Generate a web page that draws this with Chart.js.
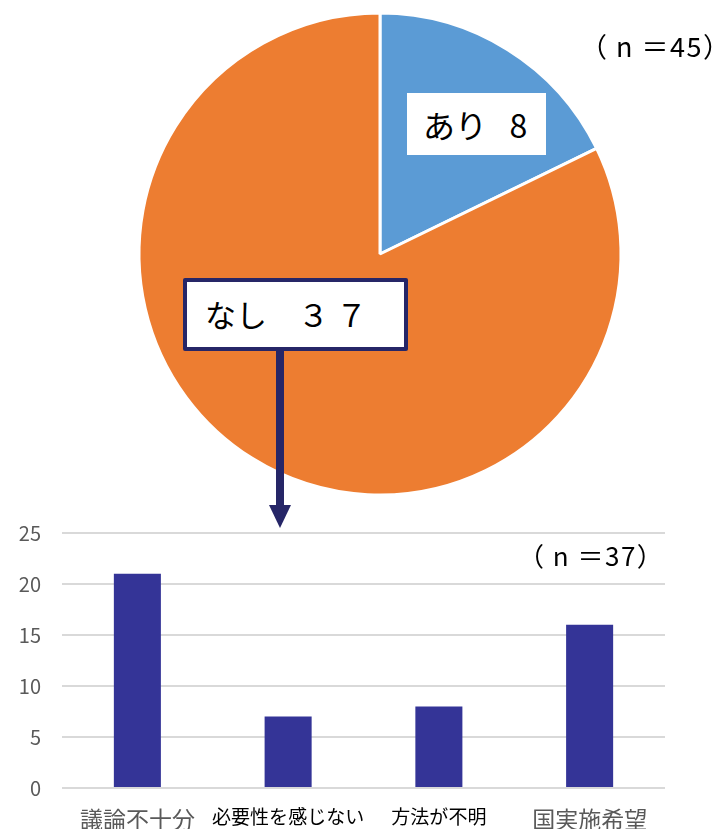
<!DOCTYPE html>
<html>
<head>
<meta charset="utf-8">
<script src="https://cdn.jsdelivr.net/npm/chart.js@4/dist/chart.umd.min.js"></script>
<style>
  html, body { margin:0; padding:0; background:#fff; }
  body { width:727px; height:829px; position:relative; overflow:hidden; font-family:"Noto Sans CJK JP", sans-serif; }
  #pieWrap { position:absolute; left:130px; top:3.5px; width:500px; height:500px; }
  #barWrap { position:absolute; left:0; top:500px; width:727px; height:329px; }
  .ann { position:absolute; white-space:nowrap; color:#000; }
  #boxAri { left:407px; top:93px; width:139px; height:62px; background:#fff; font-size:32px; line-height:62px; padding-left:16px; box-sizing:border-box; }
  #boxNashi { left:183px; top:278px; width:225px; height:73px; background:#fff; border:4px solid #262667; border-radius:2px; font-size:31px; line-height:64px; padding-left:18px; box-sizing:border-box; }
  #arrowLine { position:absolute; left:276px; top:351px; width:8px; height:160px; background:#262667; }
  #arrowHead { position:absolute; left:268.5px; top:505px; width:0; height:0; border-left:11.5px solid transparent; border-right:11.5px solid transparent; border-top:23px solid #262667; }
  #n45 { left:580px; top:26px; font-size:27px; letter-spacing:1.5px; line-height:40px; color:#000; }
  #n37 { left:518px; top:537px; font-size:26px; letter-spacing:1.5px; line-height:36px; color:#000; }
</style>
</head>
<body>
<div id="pieWrap"><canvas id="pie"></canvas></div>
<div id="barWrap"><canvas id="bar"></canvas></div>
<div class="ann" id="boxAri"></div>
<div class="ann" id="boxNashi"></div>
<div id="arrowLine"></div>
<div id="arrowHead"></div>
<div class="ann" id="n45"></div>
<div class="ann" id="n37"></div>
<script>
// ---- data ----
const pieLabels = ['あり', 'なし'];
const pieValues = [8, 37];
const pieTotal = 45;

const barLabels = ['議論不十分', '必要性を感じない', '方法が不明', '国実施希望'];
const barValues = [21, 7, 8, 16];
const barTotal = 37;
const yTicks = [0, 5, 10, 15, 20, 25];

// ---- helpers ----
const toFW = s => String(s).replace(/[0-9]/g, d => String.fromCharCode(d.charCodeAt(0) + 0xFEE0));
document.getElementById('boxAri').textContent = pieLabels[0] + '\u2002\u2009' + pieValues[0];
document.getElementById('boxNashi').textContent = pieLabels[1] + '　' + toFW(pieValues[1]).split('').join(' ');
document.getElementById('n45').textContent = '（ n ＝' + pieTotal + '）';
document.getElementById('n37').textContent = '（ n ＝' + barTotal + '）';

const FONT = '"Noto Sans CJK JP", sans-serif';

new Chart(document.getElementById('pie'), {
  type: 'pie',
  data: {
    labels: pieLabels,
    datasets: [{
      data: pieValues,
      backgroundColor: ['#5B9BD5', '#ED7D31'],
      borderColor: '#ffffff',
      borderWidth: 3
    }]
  },
  options: {
    responsive: true,
    maintainAspectRatio: false,
    animation: false,
    radius: 241,
    layout: { padding: 0 },
    plugins: { legend: { display: false }, tooltip: { enabled: false } }
  }
});

new Chart(document.getElementById('bar'), {
  type: 'bar',
  data: {
    labels: barLabels,
    datasets: [{
      data: barValues,
      backgroundColor: '#343497',
      borderWidth: 0,
      barPercentage: 0.312,
      categoryPercentage: 1.0
    }]
  },
  options: {
    responsive: true,
    maintainAspectRatio: false,
    animation: false,
    layout: { padding: { top: 25, right: 62, left: 0, bottom: 0 } },
    plugins: { legend: { display: false }, tooltip: { enabled: false } },
    scales: {
      x: {
        grid: { display: false },
        border: { display: false },
        afterFit: s => { s.height = 41; },
        ticks: {
          padding: 9,
          maxRotation: 0,
          autoSkip: false,
          color: ctx => (ctx.index === 1 || ctx.index === 2) ? '#000000' : '#595959',
          font: ctx => ({ family: FONT, size: (ctx.index === 1 || ctx.index === 2) ? 19 : 23 })
        }
      },
      y: {
        min: 0,
        max: 25,
        afterFit: s => { s.width = 62; },
        afterBuildTicks: s => { s.ticks = yTicks.map(v => ({ value: v })); },
        grid: { color: '#D9D9D9', lineWidth: 2, drawTicks: false },
        border: { display: false },
        ticks: {
          padding: 21,
          color: '#595959',
          font: { family: FONT, size: 20 }
        }
      }
    }
  }
});
</script>
</body>
</html>
